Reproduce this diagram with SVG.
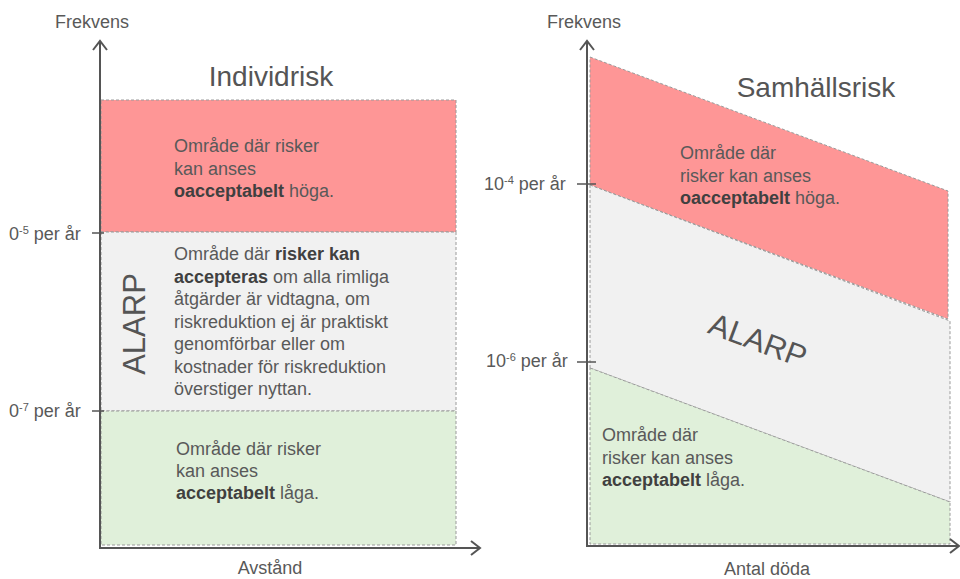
<svg xmlns="http://www.w3.org/2000/svg" width="960" height="579" viewBox="0 0 960 579">
<style>
text{font-family:"Liberation Sans",Arial,sans-serif;fill:#595959}
.body{font-size:18px}
.b{font-weight:bold;fill:#404040}
.lbl{font-size:18px}
.title{font-size:28px;fill:#555}
.alarp{font-size:31px;fill:#555}
.sup{font-size:11px}
.zone{stroke:#9a9a9a;stroke-width:1;stroke-dasharray:3 2}
.red{fill:#fe9696}
.grey{fill:#f1f1f1}
.green{fill:#e0f0da}
.axis{stroke:#555;stroke-width:2;fill:none}
.tick{stroke:#555;stroke-width:1.5}
</style>
<rect width="960" height="579" fill="#fff"/>

<!-- Left chart: Individrisk -->
<g id="ind-red">
<rect class="zone red" x="101" y="100" width="355" height="132"/>
<text class="body" x="174"><tspan x="174" y="152">Område där risker</tspan><tspan x="174" y="174.5">kan anses</tspan><tspan x="174" y="197"><tspan class="b">oacceptabelt</tspan> höga.</tspan></text>
</g>
<g id="ind-alarp">
<rect class="zone grey" x="101" y="232" width="355" height="179"/>
<text class="alarp" x="134" y="335" text-anchor="middle" transform="rotate(-90 134 324)">ALARP</text>
<text class="body"><tspan x="174" y="260">Område där <tspan class="b">risker kan</tspan></tspan><tspan x="174" y="282.5"><tspan class="b">accepteras</tspan> om alla rimliga</tspan><tspan x="174" y="305">åtgärder är vidtagna, om</tspan><tspan x="174" y="327.5">riskreduktion ej är praktiskt</tspan><tspan x="174" y="350">genomförbar eller om</tspan><tspan x="174" y="372.5">kostnader för riskreduktion</tspan><tspan x="174" y="395">överstiger nyttan.</tspan></text>
</g>
<g id="ind-green">
<rect class="zone green" x="101" y="411" width="355" height="134"/>
<text class="body"><tspan x="176" y="455">Område där risker</tspan><tspan x="176" y="477">kan anses</tspan><tspan x="176" y="499"><tspan class="b">acceptabelt</tspan> låga.</tspan></text>
</g>
<g id="ind-title"><text class="title" x="271" y="86" text-anchor="middle">Individrisk</text></g>

<!-- Right chart: Samhällsrisk -->
<g id="sam-red">
<polygon class="zone red" points="590,57 948,191 948,319 590,185"/>
<text class="body"><tspan x="680" y="159">Område där</tspan><tspan x="680" y="181.5">risker kan anses</tspan><tspan x="680" y="204"><tspan class="b">oacceptabelt</tspan> höga.</tspan></text>
</g>
<g id="sam-alarp">
<polygon class="zone grey" points="590,185 950,321 950,502 590,368"/>
<text class="alarp" x="758" y="351" text-anchor="middle" transform="rotate(20.5 758 340)">ALARP</text>
</g>
<g id="sam-green">
<polygon class="zone green" points="590,368 950,502 950,544 590,544"/>
<text class="body"><tspan x="602" y="441">Område där</tspan><tspan x="602" y="463.5">risker kan anses</tspan><tspan x="602" y="486"><tspan class="b">acceptabelt</tspan> låga.</tspan></text>
</g>
<g id="sam-title"><text class="title" x="816" y="97" text-anchor="middle">Samhällsrisk</text></g>

<!-- Axes -->
<g id="connectors">
<path class="axis" d="M100,42 V548 H480"/>
<path class="axis" d="M93,50 L100,41 L107,50"/>
<path class="axis" d="M471,541 L480,548 L471,555"/>
<line class="tick" x1="92" y1="233" x2="104" y2="233"/>
<line class="tick" x1="92" y1="411" x2="104" y2="411"/>
<path class="axis" d="M587,42 V546 H958"/>
<path class="axis" d="M580,50 L587,41 L594,50"/>
<path class="axis" d="M950,539 L959,546 L950,553"/>
<line class="tick" x1="577" y1="184" x2="596" y2="184"/>
<line class="tick" x1="577" y1="362" x2="596" y2="362"/>
</g>

<!-- Axis labels -->
<g id="labels">
<text class="lbl" x="92" y="28" text-anchor="middle">Frekvens</text>
<text class="lbl" x="270" y="574" text-anchor="middle">Avstånd</text>
<text class="lbl" x="9" y="240">0<tspan class="sup" dy="-6">-5</tspan><tspan dy="6"> per år</tspan></text>
<text class="lbl" x="9" y="417">0<tspan class="sup" dy="-6">-7</tspan><tspan dy="6"> per år</tspan></text>
<text class="lbl" x="584" y="28" text-anchor="middle">Frekvens</text>
<text class="lbl" x="767" y="575" text-anchor="middle">Antal döda</text>
<text class="lbl" x="484" y="190">10<tspan class="sup" dy="-6">-4</tspan><tspan dy="6"> per år</tspan></text>
<text class="lbl" x="486" y="367">10<tspan class="sup" dy="-6">-6</tspan><tspan dy="6"> per år</tspan></text>
</g>
</svg>
